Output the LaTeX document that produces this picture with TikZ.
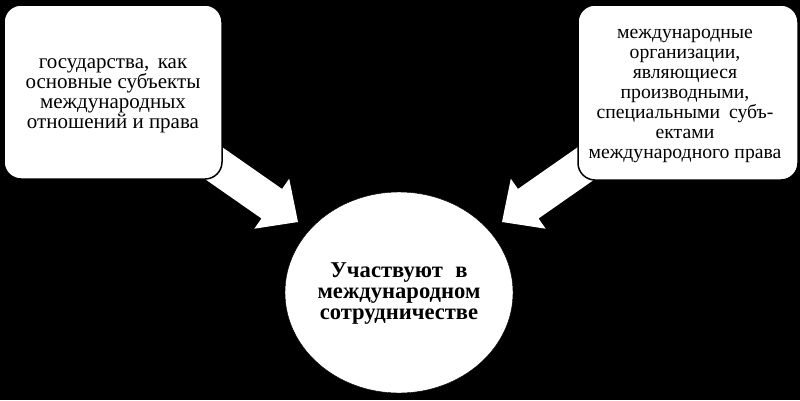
\documentclass[tikz,border=0pt]{standalone}
\usepackage{fontspec}
\setmainfont{Liberation Serif}
\usetikzlibrary{shapes.geometric}
\begin{document}
\begin{tikzpicture}[x={(1pt,0)},y={(0,-1pt)},
  box/.style={draw=black,line width=1.5pt,fill=white,rounded corners=17pt},
  txt/.style={align=center,font=\fontsize{21}{20}\selectfont,inner sep=0pt},
  blockarrow/.style={fill=white,draw=none}]
\fill[black] (0,0) rectangle (800,400);
\useasboundingbox (0,0) rectangle (800,400);
% arrows
\coordinate (ltip) at (298,222);
\coordinate (rtip) at (502,222);
\begin{scope}[shift={(ltip)},rotate=-34.9]
\fill[blockarrow] (-125,-18) -- (-32,-18) -- (-32,-30.5) -- (0,0) -- (-32,30.5) -- (-32,18) -- (-125,18) -- cycle;
\end{scope}
\begin{scope}[shift={(rtip)},rotate=-145.1]
\fill[blockarrow] (-125,-18) -- (-32,-18) -- (-32,-30.5) -- (0,0) -- (-32,30.5) -- (-32,18) -- (-125,18) -- cycle;
\end{scope}
% boxes
\draw[box] (4,5) rectangle (222,179);
\draw[box] (578,5) rectangle (798,180);
\node[txt] (ltext) at (113,96) {государства,\hspace{0.4em}как\\основные субъекты\\международных\\отношений и права};
\node[txt,font=\fontsize{19.7}{20}\selectfont] (rtext) at (685,96) {международные\\организации,\\являющиеся\\производными,\\специальными\hspace{0.45em}субъ-\\ектами\\международного права};
% circle
\node[fill=white,draw=black,ellipse,minimum width=228pt,minimum height=201pt,inner sep=0pt] (circ) at (399,292.5) {};
\node[align=center,font=\fontsize{22.6}{21}\selectfont\bfseries,inner sep=0pt] (ctext) at (399,294) {Участвуют\hspace{0.55em}в\\международном\\сотрудничестве};
\end{tikzpicture}
\end{document}
